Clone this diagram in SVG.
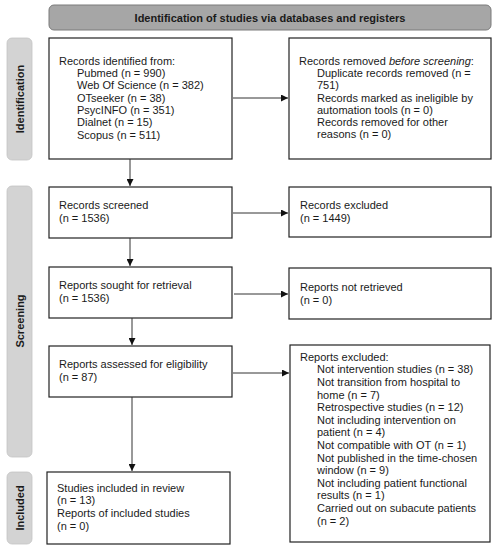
<svg xmlns="http://www.w3.org/2000/svg" width="497" height="550" viewBox="0 0 497 550">
<defs>
<style>
text{font-family:"Liberation Sans",Arial,sans-serif;font-size:11px;fill:#1a1a1a}
.b{font-weight:bold}
.box{fill:#fff;stroke:#222;stroke-width:1.2}
.side{fill:#d3d3d3;stroke:#c4c4c4;stroke-width:0.8}
.hdr{fill:#a6a6a6;stroke:#7a7a7a;stroke-width:1}
.con line{stroke:#333;stroke-width:1;fill:none}
</style>
<marker id="ah" viewBox="0 0 10 10" refX="10" refY="5" markerWidth="7" markerHeight="7" markerUnits="userSpaceOnUse" orient="auto">
<path d="M0,0 L10,5 L0,10 z" fill="#111"/>
</marker>
</defs>
<rect width="497" height="550" fill="#fff"/>

<g id="header">
<rect class="hdr" x="49" y="5" width="442" height="25" rx="5"/>
<text class="b" x="270" y="21.5" text-anchor="middle">Identification of studies via databases and registers</text>
</g>

<g id="side-identification">
<rect class="side" x="7" y="38" width="25" height="122" rx="5"/>
<text class="b" transform="translate(23.5,99) rotate(-90)" text-anchor="middle">Identification</text>
</g>
<g id="side-screening">
<rect class="side" x="7" y="186" width="25" height="271" rx="5"/>
<text class="b" transform="translate(23.5,321) rotate(-90)" text-anchor="middle">Screening</text>
</g>
<g id="side-included">
<rect class="side" x="7" y="472" width="25" height="72" rx="5"/>
<text class="b" transform="translate(23.5,508) rotate(-90)" text-anchor="middle">Included</text>
</g>

<g id="records-identified">
<rect class="box" x="49" y="38" width="183" height="121"/>
<text x="59" y="64.5">Records identified from:</text>
<text x="77" y="77">Pubmed (n = 990)</text>
<text x="77" y="89.3">Web Of Science (n = 382)</text>
<text x="77" y="101.6">OTseeker (n = 38)</text>
<text x="77" y="113.9">PsycINFO (n = 351)</text>
<text x="77" y="126.2">Dialnet (n = 15)</text>
<text x="77" y="138.5">Scopus (n = 511)</text>
</g>

<g id="records-removed">
<rect class="box" x="289" y="38" width="202" height="121"/>
<text x="299" y="65">Records removed <tspan font-style="italic">before screening</tspan>:</text>
<text x="317" y="77.2">Duplicate records removed (n =</text>
<text x="317" y="89.4">751)</text>
<text x="317" y="101.6">Records marked as ineligible by</text>
<text x="317" y="113.8">automation tools (n = 0)</text>
<text x="317" y="126">Records removed for other</text>
<text x="317" y="138.2">reasons (n = 0)</text>
</g>

<g id="records-screened">
<rect class="box" x="49" y="187" width="183" height="51"/>
<text x="59" y="209">Records screened</text>
<text x="59" y="221.5">(n = 1536)</text>
</g>

<g id="records-excluded">
<rect class="box" x="289" y="187" width="202" height="50"/>
<text x="300" y="209">Records excluded</text>
<text x="300" y="221.5">(n = 1449)</text>
</g>

<g id="reports-sought">
<rect class="box" x="49" y="267" width="183" height="51"/>
<text x="59" y="289">Reports sought for retrieval</text>
<text x="59" y="301.5">(n = 1536)</text>
</g>

<g id="reports-not-retrieved">
<rect class="box" x="289" y="268" width="202" height="51"/>
<text x="300" y="291">Reports not retrieved</text>
<text x="300" y="303.5">(n = 0)</text>
</g>

<g id="reports-assessed">
<rect class="box" x="49" y="346" width="183" height="51"/>
<text x="59" y="368">Reports assessed for eligibility</text>
<text x="59" y="380.5">(n = 87)</text>
</g>

<g id="reports-excluded">
<rect class="box" x="290" y="345" width="200" height="197"/>
<text x="300" y="360.7">Reports excluded:</text>
<text x="317" y="373.3">Not intervention studies (n = 38)</text>
<text x="317" y="385.9">Not transition from hospital to</text>
<text x="317" y="398.5">home (n = 7)</text>
<text x="317" y="411.1">Retrospective studies (n = 12)</text>
<text x="317" y="423.7">Not including intervention on</text>
<text x="317" y="436.3">patient (n = 4)</text>
<text x="317" y="448.9">Not compatible with OT (n = 1)</text>
<text x="317" y="461.5">Not published in the time-chosen</text>
<text x="317" y="474.1">window (n = 9)</text>
<text x="317" y="486.7">Not including patient functional</text>
<text x="317" y="499.3">results (n = 1)</text>
<text x="317" y="511.9">Carried out on subacute patients</text>
<text x="317" y="524.5">(n = 2)</text>
</g>

<g id="studies-included">
<rect class="box" x="47" y="472" width="183" height="72"/>
<text x="57" y="492">Studies included in review</text>
<text x="57" y="504">(n = 13)</text>
<text x="57" y="517">Reports of included studies</text>
<text x="57" y="529.5">(n = 0)</text>
</g>

<g id="connectors" class="con">
<line x1="233" y1="98" x2="288" y2="98" marker-end="url(#ah)"/>
<line x1="130" y1="159" x2="130" y2="186" marker-end="url(#ah)"/>
<line x1="233" y1="213" x2="288" y2="213" marker-end="url(#ah)"/>
<line x1="130" y1="238" x2="130" y2="266" marker-end="url(#ah)"/>
<line x1="234" y1="294" x2="288" y2="294" marker-end="url(#ah)"/>
<line x1="132" y1="318" x2="132" y2="345" marker-end="url(#ah)"/>
<line x1="233" y1="373" x2="289" y2="373" marker-end="url(#ah)"/>
<line x1="132" y1="397" x2="132" y2="471" marker-end="url(#ah)"/>
</g>
</svg>
